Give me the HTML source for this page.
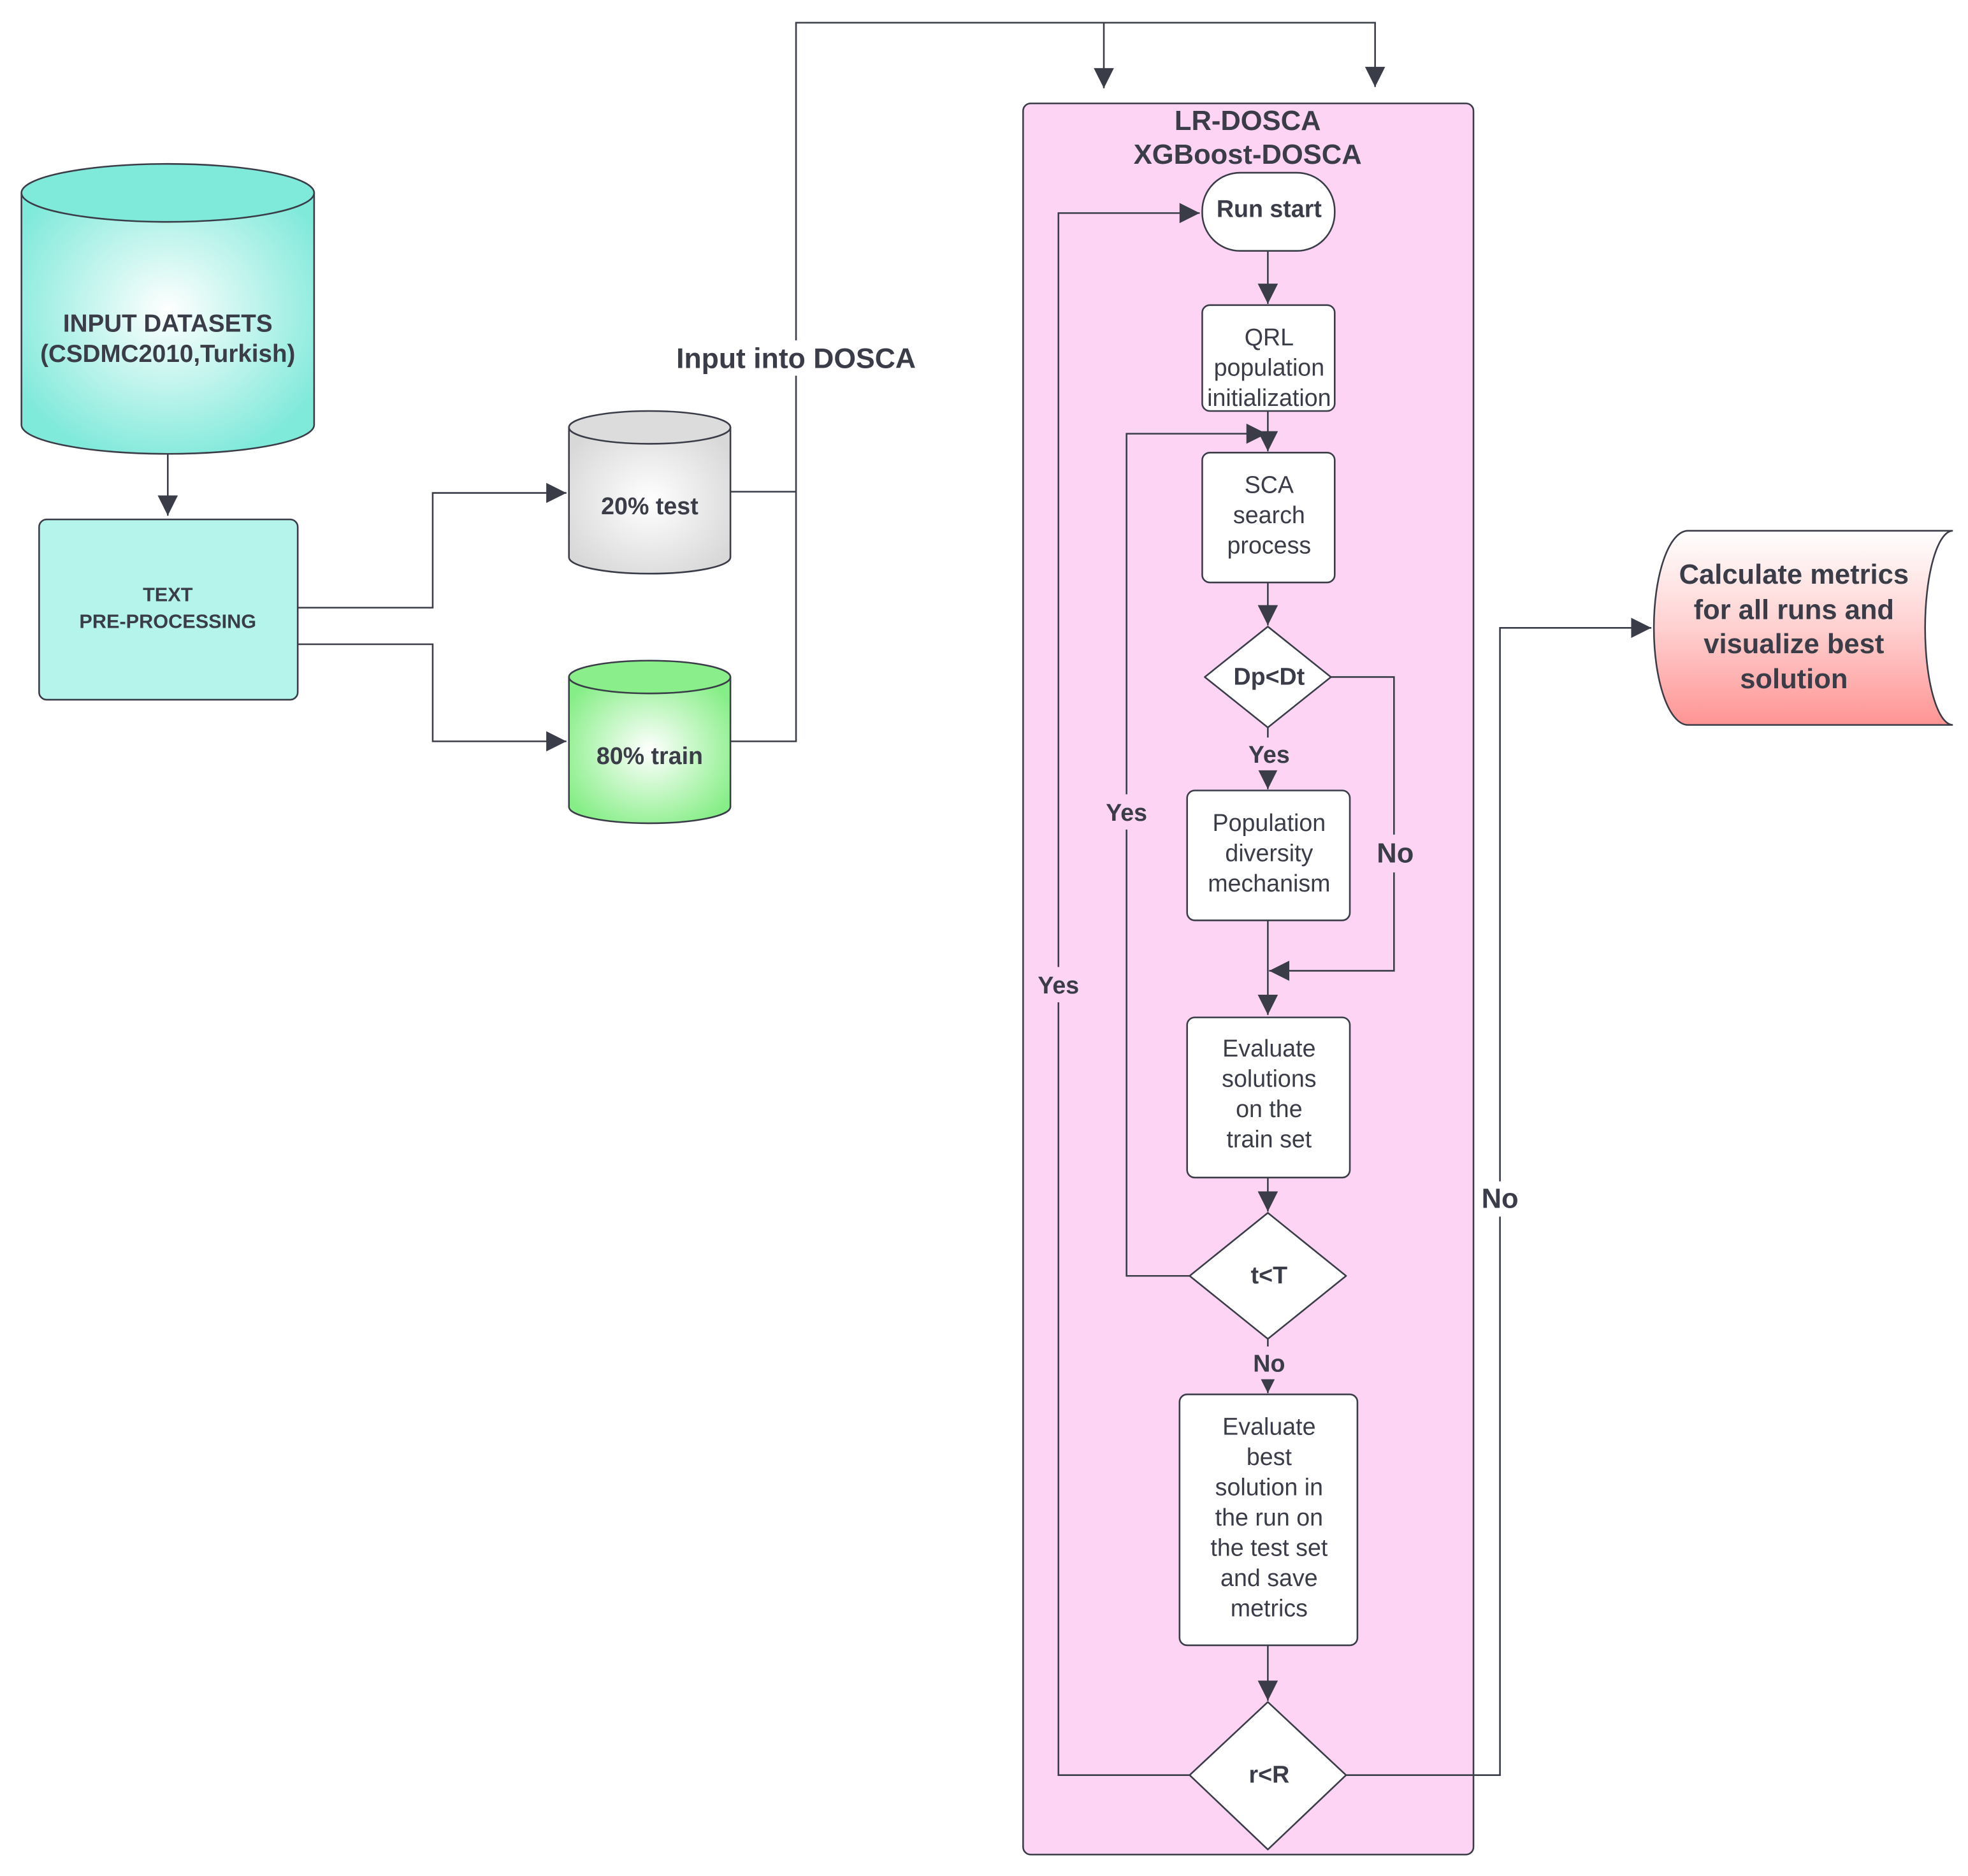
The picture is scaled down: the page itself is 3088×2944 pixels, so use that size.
<!DOCTYPE html>
<html><head><meta charset="utf-8"><style>
html,body{margin:0;padding:0;background:#fff;}
svg{display:block;}
text{font-family:"Liberation Sans",Arial,sans-serif;fill:#3a3d48;text-anchor:middle;}
.b{font-weight:bold;}
</style></head><body>
<svg width="3088" height="2944" viewBox="0 0 1560 1488" preserveAspectRatio="none" xmlns="http://www.w3.org/2000/svg">
<defs>
<radialGradient id="gT" cx="0.5" cy="0.45" r="0.6"><stop offset="0" stop-color="#ffffff"/><stop offset="1" stop-color="#7fe9da"/></radialGradient>
<radialGradient id="gG" cx="0.5" cy="0.5" r="0.6"><stop offset="0" stop-color="#ffffff"/><stop offset="1" stop-color="#d8d8d8"/></radialGradient>
<radialGradient id="gN" cx="0.5" cy="0.5" r="0.6"><stop offset="0" stop-color="#ffffff"/><stop offset="1" stop-color="#86ee86"/></radialGradient>
<linearGradient id="gR" x1="0" y1="0" x2="0" y2="1"><stop offset="0" stop-color="#ffffff"/><stop offset="0.5" stop-color="#ffd0d0"/><stop offset="1" stop-color="#ff9494"/></linearGradient>
<marker id="ar" viewBox="0 0 10 10" refX="10" refY="5" markerWidth="20" markerHeight="16" markerUnits="userSpaceOnUse" orient="auto"><path d="M0,0 L10,5 L0,10 z" fill="#3a3d48"/></marker>
</defs>
<g stroke="#3a3d48" stroke-width="1.3" fill="none">
<path d="M17,153 L17,337 A116,23 0 0 0 249,337 L249,153" fill="url(#gT)"/>
<ellipse cx="133" cy="153" rx="116" ry="23" fill="#7fe9da"/>
<line x1="133" y1="360" x2="133" y2="409" marker-end="url(#ar)"/>
<rect x="31" y="412" width="205" height="143" rx="6" fill="#b4f4ea"/>
<path d="M236,482 H343 V391 H449" marker-end="url(#ar)"/>
<path d="M236,511 H343 V588 H449" marker-end="url(#ar)"/>
<path d="M451,339 L451,442 A64,13 0 0 0 579,442 L579,339" fill="url(#gG)"/>
<ellipse cx="515" cy="339" rx="64" ry="13" fill="#dcdcdc"/>
<path d="M451,537 L451,640 A64,13 0 0 0 579,640 L579,537" fill="url(#gN)"/>
<ellipse cx="515" cy="537" rx="64" ry="13" fill="#8aef8a"/>
<path d="M579,390 H631"/>
<path d="M579,588 H631 V18 H1090 V69" marker-end="url(#ar)"/>
<path d="M875,18 V70" marker-end="url(#ar)"/>
<rect x="811" y="82" width="357" height="1389" rx="6" fill="#fdd4f4"/>
<rect x="953" y="137" width="105" height="62" rx="30" fill="#fff"/>
<line x1="1005" y1="199" x2="1005" y2="241" marker-end="url(#ar)"/>
<rect x="953" y="242" width="105" height="84" rx="6" fill="#fff"/>
<line x1="1005" y1="326" x2="1005" y2="358" marker-end="url(#ar)"/>
<rect x="953" y="359" width="105" height="103" rx="6" fill="#fff"/>
<line x1="1005" y1="462" x2="1005" y2="496" marker-end="url(#ar)"/>
<path d="M1005,497 L1055,537 L1005,577 L955,537 Z" fill="#fff" stroke-linejoin="round"/>
<line x1="1005" y1="577" x2="1005" y2="626" marker-end="url(#ar)"/>
<rect x="941" y="627" width="129" height="103" rx="6" fill="#fff"/>
<path d="M1055,537 H1105 V770 H1006" marker-end="url(#ar)"/>
<line x1="1005" y1="730" x2="1005" y2="805" marker-end="url(#ar)"/>
<rect x="941" y="807" width="129" height="127" rx="6" fill="#fff"/>
<line x1="1005" y1="934" x2="1005" y2="961" marker-end="url(#ar)"/>
<path d="M1005,962 L1067,1012 L1005,1062 L943,1012 Z" fill="#fff" stroke-linejoin="round"/>
<path d="M943,1012 H893 V344 H1004" marker-end="url(#ar)"/>
<line x1="1005" y1="1062" x2="1005" y2="1105" marker-end="url(#ar)"/>
<rect x="935" y="1106" width="141" height="199" rx="6" fill="#fff"/>
<line x1="1005" y1="1305" x2="1005" y2="1349" marker-end="url(#ar)"/>
<path d="M1005,1350 L1067,1408 L1005,1467 L943,1408 Z" fill="#fff" stroke-linejoin="round"/>
<path d="M943,1408 H839 V169 H951" marker-end="url(#ar)"/>
<path d="M1067,1408 H1189 V498 H1309" marker-end="url(#ar)"/>
<path d="M1338,421 H1548 A22,77 0 0 0 1548,575 H1338 A27,77 0 0 1 1338,421 Z" fill="url(#gR)"/>
</g>
<g stroke="none">
<rect x="531" y="270" width="200" height="28" fill="#fff"/>
<rect x="1170" y="937" width="38" height="28" fill="#fff"/>
<rect x="870" y="630" width="46" height="28" fill="#fdd4f4"/>
<rect x="816" y="767" width="46" height="28" fill="#fdd4f4"/>
<rect x="1086" y="662" width="40" height="30" fill="#fdd4f4"/>
<rect x="985" y="585" width="40" height="26" fill="#fdd4f4"/>
<rect x="988" y="1068" width="36" height="26" fill="#fdd4f4"/>
</g>
<text class="b" x="133" y="263" font-size="19.5">INPUT DATASETS</text>
<text class="b" x="133" y="287" font-size="19.5">(CSDMC2010,Turkish)</text>
<text class="b" x="133" y="477" font-size="15.5">TEXT</text>
<text class="b" x="133" y="498" font-size="15.5">PRE-PROCESSING</text>
<text class="b" x="515" y="408" font-size="19">20% test</text>
<text class="b" x="515" y="606" font-size="19">80% train</text>
<text class="b" x="631" y="292" font-size="22.5">Input into DOSCA</text>
<text class="b" x="989" y="103" font-size="22">LR-DOSCA</text>
<text class="b" x="989" y="130" font-size="22">XGBoost-DOSCA</text>
<text class="b" x="1006" y="172" font-size="19">Run start</text>
<text x="1006" y="274" font-size="19">QRL</text>
<text x="1006" y="298" font-size="19">population</text>
<text x="1006" y="322" font-size="19">initialization</text>
<text x="1006" y="391" font-size="19">SCA</text>
<text x="1006" y="415" font-size="19">search</text>
<text x="1006" y="439" font-size="19">process</text>
<text class="b" x="1006" y="543" font-size="19">Dp&lt;Dt</text>
<text class="b" x="1006" y="605" font-size="19">Yes</text>
<text x="1006" y="659" font-size="19">Population</text>
<text x="1006" y="683" font-size="19">diversity</text>
<text x="1006" y="707" font-size="19">mechanism</text>
<text class="b" x="1106" y="684" font-size="22">No</text>
<text class="b" x="893" y="651" font-size="19">Yes</text>
<text class="b" x="839" y="788" font-size="19">Yes</text>
<text x="1006" y="838" font-size="19">Evaluate</text>
<text x="1006" y="862" font-size="19">solutions</text>
<text x="1006" y="886" font-size="19">on the</text>
<text x="1006" y="910" font-size="19">train set</text>
<text class="b" x="1006" y="1018" font-size="19">t&lt;T</text>
<text class="b" x="1006" y="1088" font-size="19">No</text>
<text x="1006" y="1138" font-size="19">Evaluate</text>
<text x="1006" y="1162" font-size="19">best</text>
<text x="1006" y="1186" font-size="19">solution in</text>
<text x="1006" y="1210" font-size="19">the run on</text>
<text x="1006" y="1234" font-size="19">the test set</text>
<text x="1006" y="1258" font-size="19">and save</text>
<text x="1006" y="1282" font-size="19">metrics</text>
<text class="b" x="1006" y="1414" font-size="19">r&lt;R</text>
<text class="b" x="1189" y="958" font-size="22">No</text>
<text class="b" x="1422" y="463" font-size="22">Calculate metrics</text>
<text class="b" x="1422" y="491" font-size="22">for all runs and</text>
<text class="b" x="1422" y="518" font-size="22">visualize best</text>
<text class="b" x="1422" y="546" font-size="22">solution</text>
</svg>
</body></html>
